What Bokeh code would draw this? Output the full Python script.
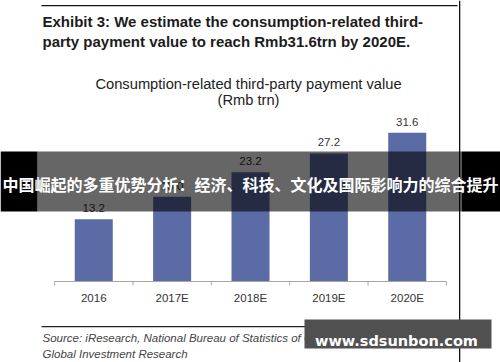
from bokeh.plotting import figure
from bokeh.models import (FactorRange, Range1d, Label, LabelSet, BoxAnnotation,
                          ColumnDataSource)
from bokeh.transform import dodge
from bokeh.core.properties import value
from bokeh.embed import file_html
from bokeh.resources import INLINE

# ---- data ----
categories = ["2016", "2017E", "2018E", "2019E", "2020E"]
values = [13.2, 18.0, 23.2, 27.2, 31.6]
value_labels = ["13.2", "18.0", "23.2", "27.2", "31.6"]

headline = ["Exhibit 3: We estimate the consumption-related third-",
            "party payment value to reach Rmb31.6trn by 2020E."]
chart_title = ["Consumption-related third-party payment value", "(Rmb trn)"]
source_lines = ["Source: iResearch, National Bureau of Statistics of China, Goldman Sachs",
                "Global Investment Research"]
banner_text = "中国崛起的多重优势分析：经济、科技、文化及国际影响力的综合提升"
watermark_text = "www.sdsunbon.com"

# ---- geometry (page pixels) ----
W, H = 500, 362
BASELINE = 281          # page y of value 0
PX_PER_UNIT = 4.71
y_start = -(H - BASELINE) / PX_PER_UNIT
y_end = BASELINE / PX_PER_UNIT


def sx(X):
    return X


def sy(Y):
    return H - Y


p = figure(width=W, height=H, title=None,
           x_range=FactorRange(*categories, range_padding=0.69,
                               range_padding_units="absolute"),
           y_range=Range1d(y_start, y_end),
           y_axis_location=None,
           output_backend="svg", toolbar_location=None,
           min_border_left=0, min_border_right=0, min_border_top=0,
           min_border_bottom=0)
p.outline_line_color = None
p.xgrid.visible = False
p.ygrid.visible = False
p.background_fill_color = "white"
p.border_fill_color = "white"

ax = p.xaxis[0]
ax.fixed_location = 0
ax.axis_line_color = None
ax.major_tick_line_color = None
ax.minor_tick_line_color = None
ax.major_tick_out = 0
ax.major_tick_in = 0
ax.major_label_standoff = 10
ax.major_label_text_font = "Liberation Sans"
ax.major_label_text_font_size = "11.5px"
ax.major_label_text_color = "#333333"

src = ColumnDataSource(dict(cat=categories, val=values, lbl=value_labels))

p.vbar(x="cat", top="val", bottom=0, width=0.485, source=src,
       fill_color="#5b6ba6", line_color=None)

# baseline and boundary ticks
tick_len = 4 / PX_PER_UNIT
p.segment(x0=dodge("cat", -0.5, range=p.x_range), x1=dodge("cat", 0.5, range=p.x_range),
          y0=0, y1=0, source=src, line_color="#a6a6a6", line_width=1)
p.segment(x0=dodge("cat", -0.5, range=p.x_range), x1=dodge("cat", -0.5, range=p.x_range),
          y0=0, y1=-tick_len, source=src, line_color="#a6a6a6", line_width=1)
last = ColumnDataSource(dict(cat=[categories[-1]]))
p.segment(x0=dodge("cat", 0.5, range=p.x_range), x1=dodge("cat", 0.5, range=p.x_range),
          y0=0, y1=-tick_len, source=last, line_color="#a6a6a6", line_width=1)

p.add_layout(LabelSet(x="cat", y="val", text="lbl", source=src, y_offset=7,
                      text_align="center", text_baseline="alphabetic",
                      text_font=value("Liberation Sans"), text_font_size="11.5px",
                      text_color="#333333"))


def box(l, r, t, b, color, alpha=1.0):
    p.add_layout(BoxAnnotation(left=sx(l), right=sx(r), top=sy(t), bottom=sy(b),
                               left_units="screen", right_units="screen",
                               top_units="screen", bottom_units="screen",
                               fill_color=color, fill_alpha=alpha,
                               line_color=None, level="overlay"))


def label(X, Y, text, size, color, font="Liberation Sans", style="normal",
          align="left", baseline="alphabetic"):
    p.add_layout(Label(x=sx(X), y=sy(Y), x_units="screen", y_units="screen",
                       text=text, text_font=font, text_font_size=size,
                       text_font_style=style, text_color=color,
                       text_align=align, text_baseline=baseline, level="overlay"))


# frame lines
box(41, 457, 4.4, 5.8, "#111111")
box(458.5, 459.8, 0, 362, "#111111")
box(41, 457, 325.4, 326.7, "#222222")

# headline
label(42, 20.5, headline[0], "15px", "#1c1c1c", style="bold")
label(42, 41, headline[1], "15px", "#1c1c1c", style="bold")

# chart title
label(248, 83.5, chart_title[0], "14.7px", "#222222", align="center")
label(248, 99, chart_title[1], "14.7px", "#222222", align="center")

# source
label(42, 337.5, source_lines[0], "11.5px", "#444444", style="italic")
label(42, 353.5, source_lines[1], "11.5px", "#444444", style="italic")

# banner overlay
box(0, 37, 151, 211, "#000000")
box(461, 500, 151, 211, "#000000")
box(37, 461, 151, 211, "#000000", 0.6)
label(250, 183, banner_text, "16px", "#ffffff", font="Noto Sans CJK SC",
      style="bold", align="center", baseline="middle")

# watermark
box(304, 491, 319, 348, "#505050")
label(396, 340.5, watermark_text, "14.5px", "#ffffff", font="DejaVu Sans",
      style="bold", align="center")

open("out.html", "w").write(file_html(p, INLINE))
